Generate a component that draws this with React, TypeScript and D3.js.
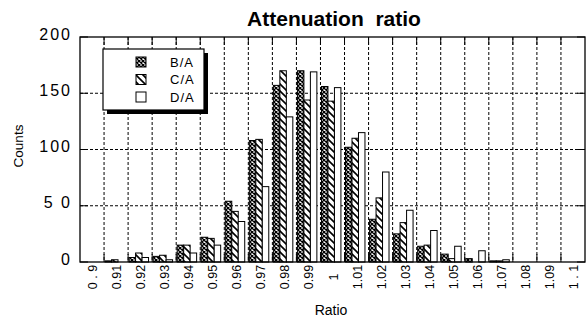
import { useEffect, useRef } from 'react'
import * as d3 from 'd3'

const W = 586, H = 317
const M = { top: 37, right: 1, bottom: 55, left: 80 }

const categories = ['0 . 9', '0.91', '0.92', '0.93', '0.94', '0.95', '0.96', '0.97', '0.98', '0.99', '1',
  '1.01', '1.02', '1.03', '1.04', '1.05', '1.06', '1.07', '1.08', '1.09', '1 . 1']
const seriesNames = ['B/A', 'C/A', 'D/A']
const bValues = [0, 1, 4, 5, 15, 22, 54, 108, 157, 170, 156, 102, 38, 25, 14, 7, 3, 1, 0, 0, 0]
const cValues = [0, 2, 8, 6, 15, 21, 45, 109, 170, 144, 143, 110, 57, 35, 15, 3, 0, 1, 0, 0, 0]
const dValues = [0, 0, 4, 2, 8, 15, 36, 67, 129, 169, 155, 115, 80, 46, 28, 14, 10, 2, 0, 0, 0]
const yTicks = [0, 50, 100, 150, 200]
const yTickLabels = ['0', '5 0', '100', '150', '200']

const FONT = '"Liberation Sans", Arial, Helvetica, sans-serif'

export default function App() {
  const svgRef = useRef<SVGSVGElement>(null)

  useEffect(() => {
    const svg = d3.select(svgRef.current!)
    svg.selectAll('*').remove()

    const x0 = M.left, x1 = W - M.right
    const yTop = M.top, yBot = H - M.bottom

    // patterns
    const defs = svg.append('defs')
    const pB = defs.append('pattern').attr('id', 'patB').attr('patternUnits', 'userSpaceOnUse')
      .attr('width', 4).attr('height', 4)
    pB.append('rect').attr('width', 4).attr('height', 4).attr('fill', '#fff')
    pB.append('path').attr('d', 'M0,0L4,4M4,0L0,4').attr('stroke', '#000').attr('stroke-width', 1.3)

    const pC = defs.append('pattern').attr('id', 'patC').attr('patternUnits', 'userSpaceOnUse')
      .attr('width', 7).attr('height', 7)
    pC.append('rect').attr('width', 7).attr('height', 7).attr('fill', '#fff')
    pC.append('path').attr('d', 'M0,0L7,7M-1,6L1,8M6,-1L8,1').attr('stroke', '#000').attr('stroke-width', 1.6)

    const fills = ['url(#patB)', 'url(#patC)', '#fff']

    const x = d3.scaleBand<string>().domain(categories).range([x0, x1]).padding(0)
    const xs = d3.scaleBand<string>().domain(seriesNames).range([1, x.bandwidth() * 0.85])
    const y = d3.scaleLinear().domain([0, 200]).range([yBot, yTop])

    // Title
    svg.append('text').attr('x', 334).attr('y', 26).attr('text-anchor', 'middle')
      .attr('font-family', FONT).attr('font-weight', 'bold').attr('font-size', 21)
      .text('Attenuation  ratio').style('white-space', 'pre')

    const g = svg.append('g')

    // Grid — dashed
    yTicks.filter(t => t > 0 && t < 200).forEach(t => {
      g.append('line').attr('x1', x0).attr('x2', x1).attr('y1', y(t)).attr('y2', y(t))
        .attr('stroke', '#000').attr('stroke-dasharray', '3 2')
    })
    categories.slice(1).forEach(c => {
      const gx = x(c)!
      g.append('line').attr('x1', gx).attr('x2', gx).attr('y1', yTop).attr('y2', yBot)
        .attr('stroke', '#000').attr('stroke-dasharray', '3 2')
    })

    // Bars
    const series = [bValues, cValues, dValues]
    categories.forEach((c, i) => {
      seriesNames.forEach((s, j) => {
        const v = series[j][i]
        if (!v) return
        g.append('rect')
          .attr('x', x(c)! + xs(s)!)
          .attr('y', y(v))
          .attr('width', xs.bandwidth())
          .attr('height', y(0) - y(v))
          .attr('fill', fills[j])
          .attr('stroke', '#000').attr('stroke-width', 1)
      })
    })

    // Frame + inner ticks
    g.append('rect').attr('x', x0).attr('y', yTop).attr('width', x1 - x0).attr('height', yBot - yTop)
      .attr('fill', 'none').attr('stroke', '#000').attr('stroke-width', 1.3)
    const tl = 8
    yTicks.forEach(t => {
      g.append('line').attr('x1', x0).attr('x2', x0 + tl).attr('y1', y(t)).attr('y2', y(t)).attr('stroke', '#000')
      g.append('line').attr('x1', x1 - tl).attr('x2', x1).attr('y1', y(t)).attr('y2', y(t)).attr('stroke', '#000')
    })
    categories.slice(1).forEach(c => {
      const gx = x(c)!
      g.append('line').attr('x1', gx).attr('x2', gx).attr('y1', yTop).attr('y2', yTop + tl).attr('stroke', '#000')
      g.append('line').attr('x1', gx).attr('x2', gx).attr('y1', yBot - tl).attr('y2', yBot).attr('stroke', '#000')
    })

    // Y tick labels
    yTicks.forEach((t, i) => {
      svg.append('text').attr('x', 72).attr('y', y(t) - 3).attr('text-anchor', 'end')
        .attr('dominant-baseline', 'central').attr('font-family', FONT).attr('font-size', 16)
        .attr('letter-spacing', 2).style('white-space', 'pre').text(yTickLabels[i])
    })

    // X tick labels (rotated)
    categories.forEach(c => {
      const cx = x(c)! + x.bandwidth() / 2 + 1
      svg.append('text')
        .attr('transform', `translate(${cx},277) rotate(-90)`)
        .attr('text-anchor', 'middle').attr('dominant-baseline', 'central')
        .attr('font-family', FONT).attr('font-size', 12.5)
        .style('white-space', 'pre').text(c)
    })

    // Axis titles
    svg.append('text').attr('transform', 'translate(18,146) rotate(-90)')
      .attr('text-anchor', 'middle').attr('dominant-baseline', 'central')
      .attr('font-family', FONT).attr('font-size', 13.5).text('Counts')
    svg.append('text').attr('x', 331).attr('y', 315).attr('text-anchor', 'middle')
      .attr('font-family', FONT).attr('font-size', 14).text('Ratio')

    // Legend with drop shadow
    const lg = svg.append('g').attr('transform', 'translate(103,49)')
    lg.append('rect').attr('x', 4).attr('y', 4).attr('width', 101).attr('height', 61).attr('fill', '#000')
    lg.append('rect').attr('width', 101).attr('height', 61).attr('fill', '#fff')
      .attr('stroke', '#000').attr('stroke-width', 1.2)
    seriesNames.forEach((s, j) => {
      const ly = 13 + j * 17.5
      lg.append('rect').attr('x', 33).attr('y', ly - 5).attr('width', 10).attr('height', 10)
        .attr('fill', fills[j]).attr('stroke', '#000')
      lg.append('text').attr('x', 67).attr('y', ly).attr('dominant-baseline', 'central')
        .attr('font-family', FONT).attr('font-size', 13).attr('letter-spacing', 1).text(s)
    })
  }, [])

  return (
    <svg ref={svgRef} width={W} height={H} viewBox={`0 0 ${W} ${H}`}
      style={{ position: 'absolute', left: 0, top: 0, background: '#fff' }} />
  )
}
